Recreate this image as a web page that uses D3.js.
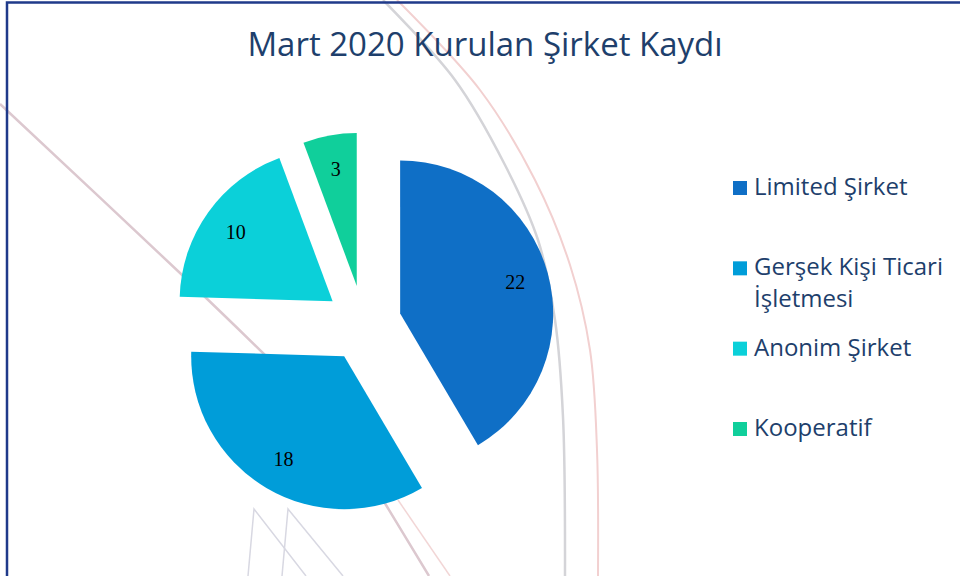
<!DOCTYPE html>
<html>
<head>
<meta charset="utf-8">
<script src="https://cdn.jsdelivr.net/npm/d3@7"></script>
<style>
  body { margin: 0; background: #fff; }
  svg { display: block; }
</style>
</head>
<body>
<div id="chart"></div>
<script>
var categories = ["Limited Şirket", "Gerşek Kişi Ticari İşletmesi", "Anonim Şirket", "Kooperatif"];
var legendLines = [["Limited Şirket"], ["Gerşek Kişi Ticari", "İşletmesi"], ["Anonim Şirket"], ["Kooperatif"]];
var values = [22, 18, 10, 3];
var colors = ["#0F6FC6", "#009DD9", "#0BD0D9", "#10CF9B"];
var title = "Mart 2020 Kurulan Şirket Kaydı";

var width = 960, height = 576;
var cx = 363.5, cy = 323.5, radius = 153, explode = 38;

var svg = d3.select("#chart").append("svg")
    .attr("width", width)
    .attr("height", height);

// faint slide background lines
var smooth = d3.line().curve(d3.curveCatmullRom);
var straight = d3.line();
var deco = [
    { c: "#d4d4d8", w: 2.5, s: true, p: [[383, 0], [455, 80], [505, 165], [538, 240], [555, 320], [563, 417], [565, 576]] },
    { c: "#f2d0d0", w: 2, s: true, p: [[397, 0], [480, 90], [535, 180], [570, 265], [590, 350], [597, 450], [598, 576]] },
    { c: "#dcc8cf", w: 2.5, s: true, p: [[0, 104], [180, 273], [267, 357], [340, 430], [386, 505], [429, 576]] },
    { c: "#f2d6d6", w: 1.5, s: false, p: [[398, 500], [450, 576]] },
    { c: "#d8d8e2", w: 1.5, s: false, p: [[248, 576], [254, 509], [306, 576]] },
    { c: "#d8d8e2", w: 1.5, s: false, p: [[282, 576], [288, 509], [343, 576]] }
];
svg.append("g").selectAll("path")
    .data(deco)
    .enter().append("path")
    .attr("d", function (d) { return d.s ? smooth(d.p) : straight(d.p); })
    .attr("fill", "none")
    .attr("stroke", function (d) { return d.c; })
    .attr("stroke-width", function (d) { return d.w; });

// frame
svg.append("rect")
    .attr("x", 7).attr("y", 2.5)
    .attr("width", width).attr("height", height)
    .attr("fill", "none")
    .attr("stroke", "#1f3a8a")
    .attr("stroke-width", 2.5);

svg.append("text")
    .attr("x", 485).attr("y", 56)
    .attr("text-anchor", "middle")
    .style("font-family", "'Open Sans', sans-serif")
    .style("font-size", "33px")
    .attr("fill", "#1e3f6c")
    .text(title);

var pie = d3.pie().sort(null).value(function (d) { return d; });
var arcs = pie(values);
var arc = d3.arc().innerRadius(0).outerRadius(radius);
var labelArc = d3.arc().innerRadius(radius * 0.78).outerRadius(radius * 0.78);

function shift(d) {
    var a = (d.startAngle + d.endAngle) / 2;
    return "translate(" + (cx + explode * Math.sin(a)) + "," + (cy - explode * Math.cos(a)) + ")";
}

var slices = svg.append("g").selectAll("g")
    .data(arcs)
    .enter().append("g")
    .attr("transform", shift);

slices.append("path")
    .attr("d", arc)
    .attr("fill", function (d, i) { return colors[i]; });

slices.append("text")
    .attr("transform", function (d) { return "translate(" + labelArc.centroid(d) + ")"; })
    .attr("text-anchor", "middle")
    .attr("dy", "0.35em")
    .style("font-family", "'Liberation Serif', serif")
    .style("font-size", "20px")
    .attr("fill", "#000")
    .text(function (d) { return d.data; });

// legend
var legendY = d3.scaleLinear().domain([0, 3]).range([195, 436]);
var legend = svg.append("g").selectAll("g")
    .data(categories)
    .enter().append("g")
    .attr("transform", function (d, i) { return "translate(733," + legendY(i) + ")"; });

legend.append("rect")
    .attr("x", 0).attr("y", -14)
    .attr("width", 14).attr("height", 14)
    .attr("fill", function (d, i) { return colors[i]; });

legend.append("text")
    .attr("x", 21)
    .style("font-family", "'Open Sans', sans-serif")
    .style("font-size", "24px")
    .attr("fill", "#1e3f6c")
    .selectAll("tspan")
    .data(function (d, i) { return legendLines[i]; })
    .enter().append("tspan")
    .attr("x", 21)
    .attr("dy", function (d, j) { return j === 0 ? 0 : 32; })
    .text(function (d) { return d; });
</script>
</body>
</html>
